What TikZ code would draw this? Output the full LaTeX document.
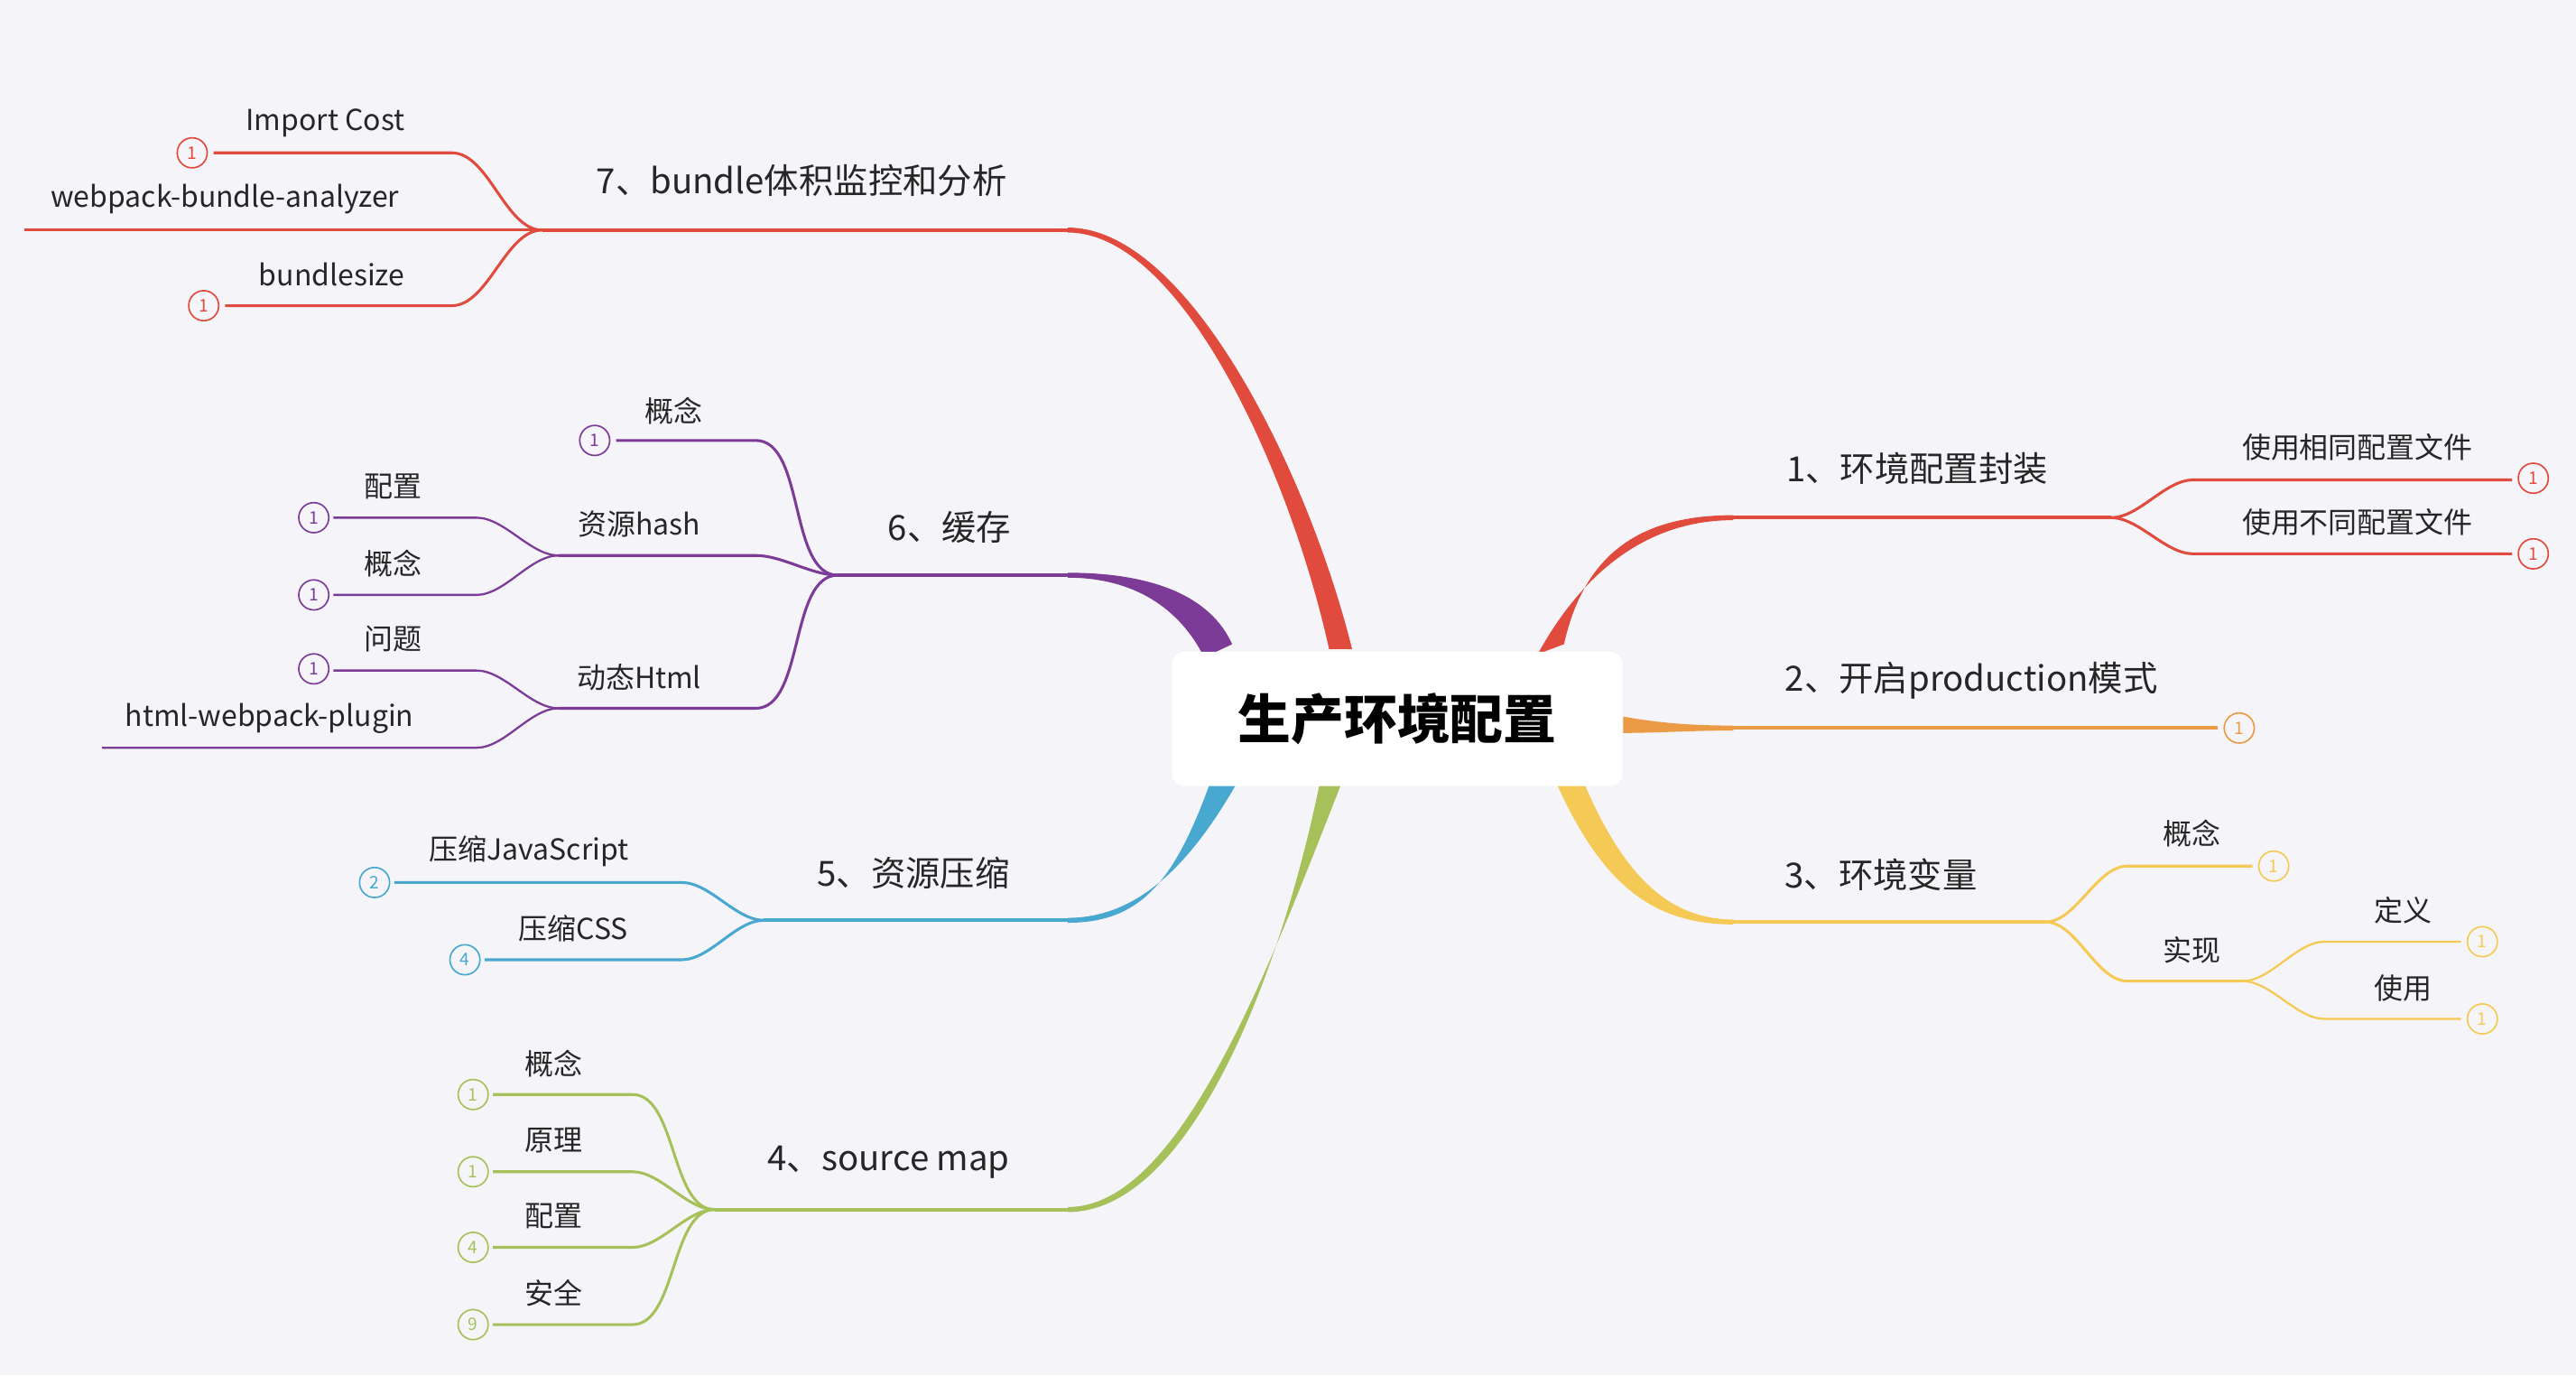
\documentclass[tikz,border=0pt]{standalone}
\usepackage{fontspec}
\setmainfont{Noto Sans CJK SC}
\definecolor{bg}{HTML}{F5F5F9}
\definecolor{cR}{HTML}{E04B3E}
\definecolor{cO}{HTML}{EB9A45}
\definecolor{cY}{HTML}{F5C955}
\definecolor{cG}{HTML}{A6C15A}
\definecolor{cB}{HTML}{48A8D0}
\definecolor{cP}{HTML}{7B3B96}
\begin{document}
\begin{tikzpicture}[x=0.05cm,y=-0.05cm,
 blab/.style={font=\fontsize{30}{31}\selectfont,text=black!85},
 llab/.style={font=\fontsize{25}{26}\selectfont,text=black!85},
 hline/.style={line width=3pt},
 leaf/.style={line width=2.4pt},
 num/.style={circle,draw,line width=1.3pt,fill=bg,minimum size=26pt,inner sep=0pt,font=\fontsize{15}{15}\selectfont},
 sc/.style={out=180,in=0,looseness=0.8},
 sc2/.style={out=0,in=180,looseness=0.8}]
\useasboundingbox (0,0) rectangle (1568,837);
\fill[bg] (0,0) rectangle (1568,837);
% ---------- branch 7
\fill[cR] (809,395) .. controls (786,290) and (720,141.5) .. (650,141.5) -- (650,138.5) .. controls (724,138.5) and (797,290) .. (823,395) -- cycle;
\coordinate (b7) at (650,140); \coordinate (j7) at (330,140);
\draw[cR,hline] (b7) -- (j7);
\node[blab] (t7) at (488,110) {7、bundle体积监控和分析};
\coordinate (c71) at (275,93); \coordinate (e71) at (130,93);
\draw[cR,leaf] (j7) to[sc] (c71) -- (e71);
\node[num,draw=cR,text=cR] (n71) at (117,93) {1};
\node[llab] at (198,75) {Import Cost};
\coordinate (e72) at (15,140);
\draw[cR,leaf] (j7) -- (e72);
\node[llab] at (137,121) {webpack-bundle-analyzer};
\coordinate (c73) at (275,186); \coordinate (e73) at (137,186);
\draw[cR,leaf] (j7) to[sc] (c73) -- (e73);
\node[num,draw=cR,text=cR] at (124,186) {1};
\node[llab] at (202,167) {bundlesize};
% ---------- branch 6
\fill[cP] (733,400) .. controls (718,370) and (690,351.5) .. (650,351.5) -- (650,348.5) .. controls (702,348.5) and (737,363) .. (750,392) -- cycle;
\coordinate (b6) at (650,350); \coordinate (j6) at (510,350);
\draw[cP,hline] (b6) -- (j6);
\node[blab] at (578,321) {6、缓存};
\coordinate (c61) at (460,268);
\draw[cP,leaf] (j6) to[sc] (c61) -- (375,268);
\node[num,draw=cP,text=cP] at (362,268) {1};
\node[llab] at (410,250) {概念};
\coordinate (c62) at (460,338); \coordinate (j62) at (340,338);
\draw[cP,leaf] (j6) to[sc] (c62) -- (j62);
\node[llab] at (389,319) {资源hash};
\draw[cP,line width=1.8pt] (j62) to[sc] (290,315) -- (203,315);
\node[num,draw=cP,text=cP] at (191,315) {1};
\node[llab] at (239,296) {配置};
\draw[cP,line width=1.8pt] (j62) to[sc] (290,362) -- (203,362);
\node[num,draw=cP,text=cP] at (191,362) {1};
\node[llab] at (239,343) {概念};
\coordinate (c63) at (460,431); \coordinate (j63) at (340,431);
\draw[cP,leaf] (j6) to[sc] (c63) -- (j63);
\node[llab] at (389,412) {动态Html};
\draw[cP,line width=1.8pt] (j63) to[sc] (290,408) -- (203,408);
\node[num,draw=cP,text=cP] at (191,407) {1};
\node[llab] at (239,389) {问题};
\draw[cP,line width=1.8pt] (j63) to[sc] (290,455) -- (62,455);
\node[llab] at (164,437) {html-webpack-plugin};
% ---------- branch 5
\fill[cB] (736,478) .. controls (715,535) and (695,561.5) .. (650,561.5) -- (650,558.5) .. controls (690,558.5) and (722,530) .. (752,478) -- cycle;
\coordinate (b5) at (650,560); \coordinate (j5) at (465,560);
\draw[cB,hline] (b5) -- (j5);
\node[blab] at (556,531) {5、资源压缩};
\draw[cB,leaf] (j5) to[sc] (415,537) -- (240,537);
\node[num,draw=cB,text=cB] at (228,537) {2};
\node[llab] at (322,518) {压缩JavaScript};
\draw[cB,leaf] (j5) to[sc] (415,584) -- (295,584);
\node[num,draw=cB,text=cB] at (283,584) {4};
\node[llab] at (349,565) {压缩CSS};
% ---------- branch 4
\fill[cG] (803,478) .. controls (780,590) and (725,737.5) .. (650,737.5) -- (650,734.5) .. controls (718,734.5) and (772,590) .. (816,478) -- cycle;
\coordinate (b4) at (650,736); \coordinate (j4) at (435,736);
\draw[cG,hline] (b4) -- (j4);
\node[blab] at (541,707) {4、source map};
\foreach \yy/\nn/\tt in {666/1/概念,713/1/原理,759/4/配置,806/9/安全}{
 \draw[cG,leaf] (j4) to[sc] (385,\yy) -- (300,\yy);
 \node[num,draw=cG,text=cG] at (288,\yy) {\nn};
 \node[llab] at (337,\yy-19) {\tt};
}
% ---------- branch 1
\fill[cR] (936,398) .. controls (968,340) and (1010,316.5) .. (1055,316.5) -- (1055,313.5) .. controls (1003,313.5) and (965,333) .. (952,392) -- cycle;
\coordinate (b1) at (1055,315); \coordinate (j1) at (1285,315);
\draw[cR,hline] (b1) -- (j1);
\node[blab] at (1167,285) {1、环境配置封装};
\draw[cR,leaf] (j1) to[sc2] (1335,292) -- (1529,292);
\node[num,draw=cR,text=cR] at (1542,291) {1};
\node[llab] at (1435,272) {使用相同配置文件};
\draw[cR,leaf] (j1) to[sc2] (1335,337) -- (1529,337);
\node[num,draw=cR,text=cR] at (1542,337) {1};
\node[llab] at (1435,318) {使用不同配置文件};
% ---------- branch 2
\fill[cO] (988,436) .. controls (1010,440) and (1030,441.5) .. (1055,441.5) -- (1055,444.5) .. controls (1030,444.5) and (1010,446) .. (988,446) -- cycle;
\coordinate (b2) at (1055,443);
\draw[cO,hline] (b2) -- (1350,443);
\node[num,draw=cO,text=cO] at (1363,443) {1};
\node[blab] at (1200,414) {2、开启production模式};
% ---------- branch 3
\fill[cY] (948,478) .. controls (975,537) and (1005,562.5) .. (1055,562.5) -- (1055,559.5) .. controls (1014,559.5) and (987,530) .. (964,476) -- cycle;
\coordinate (b3) at (1055,561); \coordinate (j3) at (1245,561);
\draw[cY,hline] (b3) -- (j3);
\node[blab] at (1145,532) {3、环境变量};
\draw[cY,leaf] (j3) to[sc2] (1295,527) -- (1371,527);
\node[num,draw=cY,text=cY] at (1384,527) {1};
\node[llab] at (1334,507) {概念};
\coordinate (j32) at (1365,597);
\draw[cY,leaf] (j3) to[sc2] (1295,597) -- (j32);
\node[llab] at (1334,578) {实现};
\draw[cY,line width=1.8pt] (j32) to[sc2] (1415,573) -- (1498,573);
\node[num,draw=cY,text=cY] at (1511,573) {1};
\node[llab] at (1463,554) {定义};
\draw[cY,line width=1.8pt] (j32) to[sc2] (1415,620) -- (1498,620);
\node[num,draw=cY,text=cY] at (1511,620) {1};
\node[llab] at (1463,601) {使用};
% ---------- center
\node[fill=white,rounded corners=10pt,minimum width=275*1.4173pt,minimum height=82*1.4173pt,font=\fontsize{46}{48}\selectfont\bfseries] (root) at (850.5,437.5) {生产环境配置};
\end{tikzpicture}
\end{document}
